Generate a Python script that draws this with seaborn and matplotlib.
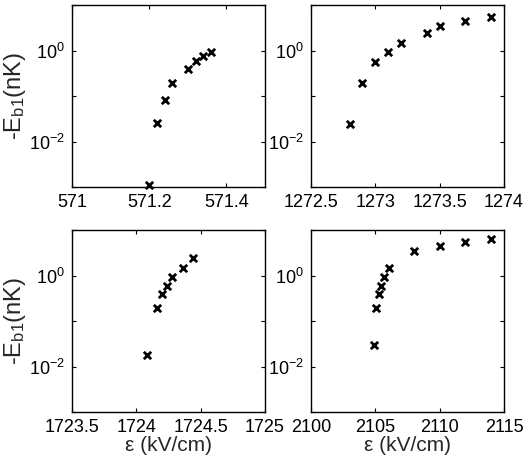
import matplotlib
matplotlib.use("Agg")
import matplotlib.pyplot as plt
import seaborn as sns
import pandas as pd

# ---- data ----
x_571 = [571.20, 571.22, 571.24, 571.26, 571.30, 571.32, 571.34, 571.36]
y_571 = [0.0011, 0.026, 0.080, 0.19, 0.39, 0.58, 0.77, 0.91]

x_1273 = [1272.8, 1272.9, 1273.0, 1273.1, 1273.2, 1273.4, 1273.5, 1273.7, 1273.9]
y_1273 = [0.024, 0.19, 0.57, 0.91, 1.44, 2.42, 3.45, 4.45, 5.45]

x_1724 = [1724.08, 1724.16, 1724.20, 1724.24, 1724.28, 1724.36, 1724.44]
y_1724 = [0.018, 0.19, 0.39, 0.58, 0.91, 1.46, 2.46]

x_2105 = [2104.9, 2105.05, 2105.25, 2105.45, 2105.65, 2106.05, 2108.0, 2110.0, 2112.0, 2114.0]
y_2105 = [0.030, 0.19, 0.39, 0.58, 0.91, 1.46, 3.45, 4.38, 5.45, 6.34]

xticks_571 = [571, 571.2, 571.4]
xticks_1273 = [1272.5, 1273, 1273.5, 1274]
xticks_1724 = [1723.5, 1724, 1724.5, 1725]
xticks_2105 = [2100, 2105, 2110, 2115]
xlabels_571 = ["571", "571.2", "571.4"]
xlabels_1273 = ["1272.5", "1273", "1273.5", "1274"]
xlabels_1724 = ["1723.5", "1724", "1724.5", "1725"]
xlabels_2105 = ["2100", "2105", "2110", "2115"]

yticks = [1e-3, 1e-2, 1e-1, 1e0, 1e1]
ylabels = ["", r"$\mathregular{10^{-2}}$", "", r"$\mathregular{10^{0}}$", ""]

sns.set_style("ticks", {"xtick.direction": "in", "ytick.direction": "in"})
plt.rcParams["font.family"] = ["Liberation Sans", "DejaVu Sans"]
plt.rcParams["axes.edgecolor"] = "black"
plt.rcParams["axes.linewidth"] = 1.0

fig = plt.figure(figsize=(5.25, 4.66), dpi=100)

W = 193 / 525
H = 182 / 466
lefts = [72 / 525, 311 / 525]
bottoms = [1 - 187 / 466, 1 - 412 / 466]

panels = [
    (x_571, y_571, (571, 571.5), xticks_571, xlabels_571, 0, 0),
    (x_1273, y_1273, (1272.5, 1274), xticks_1273, xlabels_1273, 1, 0),
    (x_1724, y_1724, (1723.5, 1725), xticks_1724, xlabels_1724, 0, 1),
    (x_2105, y_2105, (2100, 2115), xticks_2105, xlabels_2105, 1, 1),
]

for xs, ys, xlim, xt, xl, col, row in panels:
    ax = fig.add_axes([lefts[col], bottoms[row], W, H])
    df = pd.DataFrame({"x": xs, "y": ys})
    sns.scatterplot(data=df, x="x", y="y", ax=ax, marker="x", color="black",
                    s=28, linewidth=2.0, clip_on=False, zorder=5)
    ax.set_yscale("log")
    ax.set_xlim(*xlim)
    ax.set_ylim(1e-3, 1e1)
    ax.set_xticks(xt)
    ax.set_xticklabels(xl)
    ax.set_yticks(yticks)
    ax.set_yticklabels(ylabels)
    ax.minorticks_off()
    ax.tick_params(axis="both", which="major", direction="in", top=True, right=True,
                   length=3, width=0.8, labelsize=13, colors="black", pad=5)
    for s in ax.spines.values():
        s.set_visible(True)
        s.set_color("black")
        s.set_linewidth(1.0)
    if col == 0:
        ax.set_ylabel("-" + r"$\mathregular{E_{b1}}$" + "(nK)", fontsize=17, labelpad=1)
    else:
        ax.set_ylabel("")
    if row == 1:
        ax.set_xlabel("ε (kV/cm)", fontsize=15, labelpad=0)
    else:
        ax.set_xlabel("")

fig.savefig("out.png", dpi=100)
